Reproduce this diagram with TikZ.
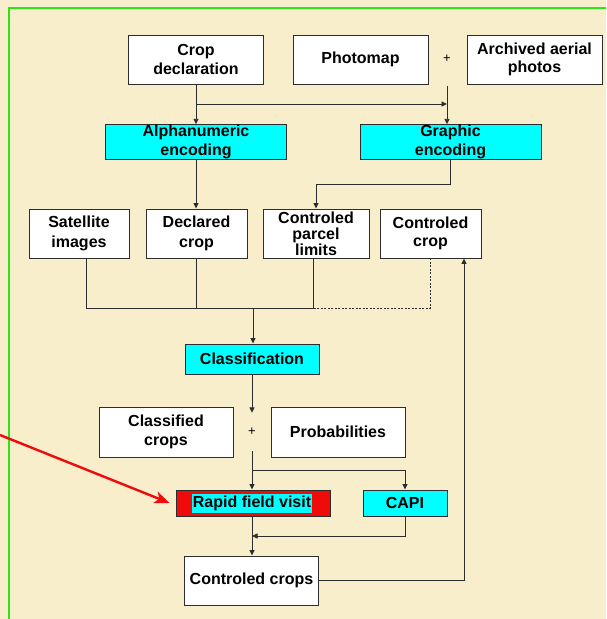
\documentclass[tikz,border=0pt]{standalone}
\usepackage{fontspec}
\setmainfont{Liberation Sans}
\usetikzlibrary{arrows.meta}
\definecolor{parchment}{RGB}{248,238,204}
\definecolor{framegreen}{RGB}{40,230,20}
\definecolor{edge}{RGB}{45,45,45}
\definecolor{boxcyan}{RGB}{0,255,255}
\definecolor{alertred}{RGB}{240,10,10}
\tikzset{
  x=1pt, y=-1pt,
  box/.style={draw=edge, line width=0.9pt, fill=white, align=center, inner sep=0pt,
    font=\fontsize{16}{19.5}\selectfont\bfseries},
  proc/.style={box, fill=boxcyan},
  plus/.style={inner sep=0pt, font=\fontsize{13}{13}\selectfont},
  link/.style={draw=edge, line width=0.9pt},
  arr/.style={link, -{Triangle[length=5.5pt,width=5pt]}},
  pointer/.style={draw=alertred, line width=2.4pt, -{Stealth[length=15pt,width=12pt,inset=4pt]}}
}
\begin{document}
\begin{tikzpicture}
  % page and frame
  \useasboundingbox (0,0) rectangle (606,619);
  \fill[parchment] (0,0) rectangle (606,619);
  \draw[framegreen, line width=1.4pt] (606,8) -- (9,8) -- (9,619);

  % sources
  \node[box, minimum width=135pt, minimum height=49pt] (cropdecl) at (196,59.5) {Crop\\declaration};
  \node[box, minimum width=135pt, minimum height=49pt] (photomap) at (360.5,59.5) {Photomap};
  \node[plus, minimum height=54pt] (plus1) at (447,59) {+};
  \node[box, minimum width=135pt, minimum height=49pt, font=\fontsize{16}{18}\selectfont\bfseries] (archived) at (534.5,59.5) {Archived aerial\\photos};

  % encoding
  \node[proc, minimum width=181pt, minimum height=32pt] (alpha) at (196,142) {Alphanumeric\\encoding};
  \node[proc, minimum width=181pt, minimum height=32pt] (graphic) at (450.5,142) {Graphic\\encoding};

  % inputs to the classification
  \node[box, minimum width=100pt, minimum height=49pt] (sat) at (79,233.5) {Satellite\\images};
  \node[box, minimum width=101pt, minimum height=49pt] (declared) at (196.5,233.5) {Declared\\crop};
  \node[box, minimum width=106pt, minimum height=49pt, font=\fontsize{16}{16}\selectfont\bfseries] (parcel) at (316,233.5) {Controled\\parcel\\limits};
  \node[box, minimum width=101pt, minimum height=49pt, font=\fontsize{16}{18}\selectfont\bfseries] (ccrop) at (430.5,233.5) {Controled\\crop};

  % classification and results
  \node[proc, minimum width=134pt, minimum height=30pt] (classif) at (252,359) {Classification};
  \node[box, minimum width=134pt, minimum height=50pt, font=\fontsize{16}{19}\selectfont\bfseries] (classified) at (166,432) {Classified\\crops};
  \node[plus, minimum height=38pt] (plus2) at (252,432) {+};
  \node[box, minimum width=134pt, minimum height=50pt] (probs) at (338,432) {Probabilities};

  % field checks
  \node[box, fill=alertred, minimum width=154pt, minimum height=26pt] (rapid) at (253,503) {};
  \node[proc, draw=none, inner xsep=0.5pt, inner ysep=2.5pt] (rapidtext) at (252,503.5) {Rapid field visit};
  \node[proc, minimum width=84pt, minimum height=26pt] (capi) at (405,503) {CAPI};
  \node[box, minimum width=134pt, minimum height=49pt] (ctrl) at (251.5,580.5) {Controled crops};

  % junction points
  \coordinate (j1) at (196,104);
  \coordinate (bus) at (253,308);
  \coordinate (j2) at (252,470);
  \coordinate (j3) at (252,536);
  \coordinate (pstart) at (0,435);

  % connectors
  \draw[arr] (cropdecl.south) -- (alpha.north);
  \draw[arr] (j1) -- (j1 -| plus1);
  \draw[arr] (plus1.south) -- (plus1.south |- graphic.north);
  \draw[arr] (graphic.south) -- ++(0,25) -| (parcel.north);
  \draw[arr] (alpha.south) -- (alpha.south |- declared.north);

  \draw[link] ([xshift=7pt]sat.south) |- (bus);
  \draw[link] (declared.south) -- (declared.south |- bus);
  \draw[link] ([xshift=-3pt]parcel.south) |- (bus);
  \draw[link, dashed, dash pattern=on 2pt off 1.5pt] (ccrop.south) |- ([xshift=-3pt]parcel.south |- bus);
  \draw[arr] (bus) -- (bus |- classif.north);

  \draw[arr] (classif.south) -- (plus2.north);
  \draw[arr] (plus2.south) -- (plus2.south |- rapid.north);
  \draw[arr] (j2) -| (capi.north);
  \draw[arr] (plus2.south |- rapid.south) -- (plus2.south |- ctrl.north);
  \draw[arr] (capi.south) |- (j3);
  \draw[arr] (ctrl.east) -| ([xshift=33.5pt]ccrop.south);

  \draw[pointer] (pstart) -- ([xshift=-6pt]rapid.west);
\end{tikzpicture}
\end{document}
